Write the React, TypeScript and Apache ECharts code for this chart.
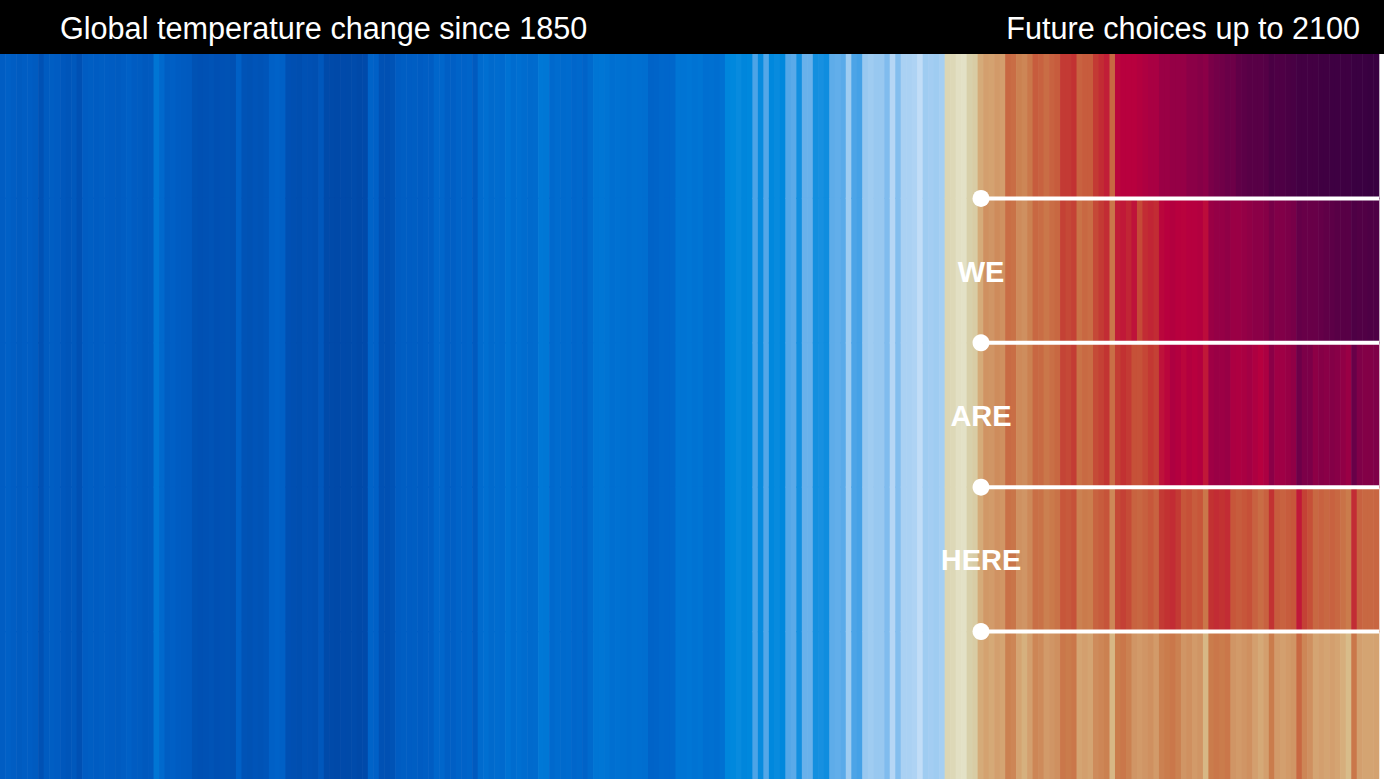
import React, { useEffect, useRef } from "react";
import * as echarts from "echarts";

const FIRST_YEAR = 1850;
const LAST_YEAR = 2100;
const HISTORIC_END = 2021;
const SHARED_END = 2028;

const titleLeft = "Global temperature change since 1850";
const titleRight = "Future choices up to 2100";
const bandWords = ["", "WE", "ARE", "HERE", ""];
const bandNames = ["Scenario 1", "Scenario 2", "Scenario 3", "Scenario 4", "Scenario 5"];

// Observed stripes 1850–2021 (°C, approx.)
const historic: number[] = [
  0.05, 0.1, 0.05, 0.02, 0.05, 0.05, 0.02, -0.15, 0.02, 0.06,
  0.04, -0.05, -0.08, -0.04, -0.16, 0.04, 0.06, 0.04, 0.06, 0.05,
  0.04, 0.02, 0.05, 0.1, 0.04, 0.03, -0.02, 0.0, 0.45, 0.25,
  0.06, 0.08, 0.04, 0.02, 0.0, -0.14, -0.16, -0.15, -0.12, -0.16,
  -0.15, -0.14, -0.16, 0.1, -0.12, -0.14, -0.1, -0.12, -0.08, 0.1,
  0.14, 0.1, -0.16, -0.18, -0.2, -0.15, -0.16, -0.18, -0.05, -0.26,
  -0.27, -0.28, -0.26, -0.27, -0.25, -0.28, -0.26, 0.15, 0.1, -0.15,
  -0.16, -0.12, 0.04, 0.06, 0.05, 0.06, 0.04, 0.07, 0.05, 0.2,
  0.2, 0.08, 0.08, 0.15, 0.14, 0.16, 0.0, 0.28, 0.35, 0.26,
  0.3, 0.27, 0.4, 0.3, 0.35, 0.3, 0.26, 0.28, 0.5, 0.48,
  0.25, 0.3, 0.26, 0.28, 0.2, 0.24, 0.15, 0.26, 0.45, 0.46,
  0.44, 0.35, 0.38, 0.36, 0.34, 0.36, 0.35, 0.33, 0.15, 0.16,
  0.22, 0.2, 0.22, 0.45, 0.44, 0.46, 0.42, 0.45, 0.35, 0.36,
  0.34, 0.38, 0.68, 0.7, 0.72, 0.68, 0.7, 0.9, 0.72, 0.92,
  0.7, 0.72, 0.7, 0.92, 0.94, 0.75, 0.98, 0.98, 0.75, 0.76,
  0.74, 0.95, 0.96, 0.94, 1.12, 0.9, 0.88, 1.1, 1.12, 1.1,
  1.1, 1.04, 1.18, 1.05, 1.15, 1.15, 1.16, 1.22, 1.12, 1.13,
  1.12, 1.14,
];

// Shared near-term stripes 2022–2028
const sharedFuture: number[] = [1.36, 1.35, 1.3, 1.29, 1.4, 1.42, 1.57];

// Scenario stripes 2029–2100 (top band to bottom band)
const scenario1: number[] = [
  1.65, 1.62, 1.7, 1.66, 2.2, 2.15, 1.95, 1.9, 2.05, 2.3,
  2.25, 2.15, 2.25, 2.3, 2.55, 2.55, 2.6, 2.25, 2.3, 2.3,
  2.55, 2.65, 2.75, 2.2, 2.95, 3.0, 3.0, 3.0, 3.05, 3.1,
  3.15, 3.15, 3.3, 3.3, 3.35, 3.35, 3.35, 3.45, 3.45, 3.5,
  3.45, 3.62, 3.68, 3.72, 3.78, 3.75, 3.9, 3.95, 4.0, 4.0,
  4.0, 4.05, 4.2, 4.15, 4.15, 4.2, 4.25, 4.35, 4.35, 4.35,
  4.35, 4.4, 4.4, 4.45, 4.45, 4.45, 4.45, 4.55, 4.55, 4.55,
  4.6, 4.6,
];
const scenario2: number[] = [
  1.8, 1.75, 1.85, 1.8, 2.15, 2.1, 1.85, 1.8, 1.95, 2.2,
  2.15, 2.05, 2.15, 2.2, 2.5, 2.45, 2.5, 2.1, 2.2, 2.15,
  2.45, 2.55, 2.65, 2.05, 2.75, 2.8, 2.7, 2.85, 2.45, 2.65,
  2.7, 2.65, 2.95, 3.0, 3.05, 3.0, 2.98, 3.02, 3.02, 3.05,
  2.9, 3.3, 3.35, 3.35, 3.4, 3.3, 3.3, 3.35, 3.4, 3.45,
  3.45, 3.5, 3.65, 3.55, 3.55, 3.6, 3.65, 3.85, 3.8, 3.8,
  3.8, 3.85, 3.9, 3.95, 4.0, 4.0, 4.0, 4.15, 4.1, 4.1,
  4.15, 4.15,
];
const scenario3: number[] = [
  1.77, 1.75, 1.84, 1.8, 2.17, 2.14, 1.86, 1.83, 1.95, 2.21,
  2.18, 2.05, 2.13, 2.2, 2.48, 2.45, 2.53, 2.1, 2.18, 2.15,
  2.43, 2.5, 2.59, 2.13, 2.52, 2.61, 2.55, 2.39, 2.38, 2.47,
  2.56, 2.5, 2.85, 2.95, 3.1, 3.05, 2.95, 3.05, 3.0, 3.05,
  2.8, 3.25, 3.3, 3.28, 3.32, 3.12, 3.1, 3.14, 3.2, 3.1,
  3.02, 3.12, 3.45, 3.25, 3.25, 3.32, 3.4, 3.75, 3.6, 3.6,
  3.43, 3.5, 3.46, 3.52, 3.48, 3.39, 3.3, 3.8, 3.57, 3.53,
  3.54, 3.57,
];
const scenario4: number[] = [
  1.72, 1.69, 1.78, 1.74, 2.11, 2.07, 1.79, 1.75, 1.87, 2.13,
  2.1, 1.96, 2.02, 2.09, 2.35, 2.32, 2.38, 1.95, 2.01, 1.98,
  2.24, 2.3, 2.37, 1.88, 2.45, 2.51, 2.43, 2.24, 2.21, 2.27,
  2.34, 2.25, 2.55, 2.6, 2.65, 2.55, 2.35, 2.4, 2.3, 2.35,
  2.05, 2.6, 2.65, 2.6, 2.65, 2.35, 2.3, 2.35, 2.4, 2.25,
  2.15, 2.25, 2.6, 2.3, 2.25, 2.3, 2.35, 2.8, 2.5, 2.4,
  2.2, 2.25, 2.2, 2.25, 2.2, 2.1, 2.0, 2.65, 2.25, 2.2,
  2.2, 2.22,
];
const scenario5: number[] = [
  1.62, 1.58, 1.65, 1.6, 1.95, 1.9, 1.6, 1.55, 1.65, 1.9,
  1.85, 1.7, 1.75, 1.8, 2.05, 2.0, 2.05, 1.6, 1.65, 1.6,
  1.85, 1.9, 1.95, 1.52, 2.0, 2.05, 1.95, 1.75, 1.7, 1.75,
  1.8, 1.7, 1.95, 2.0, 2.05, 1.95, 1.75, 1.8, 1.7, 1.75,
  1.52, 2.0, 2.05, 2.0, 2.05, 1.75, 1.7, 1.75, 1.8, 1.65,
  1.58, 1.65, 2.0, 1.7, 1.65, 1.7, 1.75, 2.2, 1.9, 1.8,
  1.6, 1.65, 1.6, 1.65, 1.6, 1.56, 1.5, 2.05, 1.65, 1.6,
  1.6, 1.62,
];

// Colour scale (style)
const COLOR_STOPS: [number, string][] = [
  [-0.3, "#0048a6"], [-0.1, "#0054b8"], [0.1, "#0060c6"], [0.3, "#006ccf"],
  [0.5, "#0078d6"], [0.7, "#0088dd"], [0.85, "#3a9ce4"], [1.0, "#70b4ec"],
  [1.1, "#98c8f0"], [1.2, "#bcdaf6"], [1.25, "#c8e2f8"], [1.28, "#e4e2c8"],
  [1.4, "#d8d0aa"], [1.5, "#d8bc8a"], [1.6, "#d4a472"], [1.8, "#cf9060"],
  [2.0, "#ca7c4c"], [2.2, "#c86842"], [2.4, "#c65038"], [2.6, "#c23232"],
  [2.8, "#c01838"], [3.0, "#b8003e"], [3.2, "#a40044"], [3.4, "#900046"],
  [3.6, "#7c0048"], [3.8, "#680048"], [4.0, "#580046"], [4.2, "#4a0044"],
  [4.4, "#400042"], [4.6, "#380040"],
];
const SCALE_MIN = -0.3;
const SCALE_MAX = 4.6;

function hexRgb(h: string): number[] {
  const n = parseInt(h.slice(1), 16);
  return [(n >> 16) & 255, (n >> 8) & 255, n & 255];
}
function buildPalette(): string[] {
  const out: string[] = [];
  const steps = Math.round((SCALE_MAX - SCALE_MIN) / 0.01);
  for (let i = 0; i <= steps; i++) {
    const v = SCALE_MIN + (SCALE_MAX - SCALE_MIN) * (i / steps);
    let k = 0;
    while (k < COLOR_STOPS.length - 2 && v > COLOR_STOPS[k + 1][0]) k++;
    const [v0, c0] = COLOR_STOPS[k];
    const [v1, c1] = COLOR_STOPS[k + 1];
    const t = Math.max(0, Math.min(1, (v - v0) / (v1 - v0)));
    const a = hexRgb(c0);
    const b = hexRgb(c1);
    const r = a.map((x, j) => Math.round(x + (b[j] - x) * t));
    out.push(`rgb(${r[0]},${r[1]},${r[2]})`);
  }
  return out;
}

// Layout (style)
const W = 1384;
const H = 779;
const HEADER_H = 54;
const STRIPE_W = 1379;
const GRID_H = 722;
const DOT_X = 981;

export default function App() {
  const ref = useRef<HTMLDivElement>(null);

  useEffect(() => {
    document.body.style.margin = "0";
    if (!ref.current) return;
    const chart = echarts.init(ref.current, undefined, { renderer: "svg" });

    const years: string[] = [];
    for (let y = FIRST_YEAR; y <= LAST_YEAR; y++) years.push(String(y));
    const scenarios = [scenario1, scenario2, scenario3, scenario4, scenario5];
    const cells: number[][] = [];
    years.forEach((ys, i) => {
      const yr = Number(ys);
      scenarios.forEach((sc, b) => {
        let v: number;
        if (yr <= HISTORIC_END) v = historic[yr - FIRST_YEAR];
        else if (yr <= SHARED_END) v = sharedFuture[yr - HISTORIC_END - 1];
        else v = sc[yr - SHARED_END - 1];
        cells.push([i, b, v]);
      });
    });

    const lastBand = bandNames.length - 1;
    const bandH = GRID_H / bandNames.length;
    const font = "'Liberation Sans', Arial, sans-serif";
    const graphics: any[] = [
      {
        type: "rect",
        shape: { x: 0, y: 0, width: W, height: HEADER_H },
        style: { fill: "#000" },
        z: 100,
      },
      {
        type: "text",
        x: 60,
        y: HEADER_H / 2 + 0.5,
        z: 101,
        style: {
          text: titleLeft,
          fill: "#fff",
          fontSize: 30.6,
          fontFamily: font,
          align: "left",
          verticalAlign: "middle",
          textAlign: "left",
          textVerticalAlign: "middle",
        },
      },
      {
        type: "text",
        x: 1360,
        y: HEADER_H / 2 + 0.5,
        z: 101,
        style: {
          text: titleRight,
          fill: "#fff",
          fontSize: 30.6,
          fontFamily: font,
          align: "right",
          verticalAlign: "middle",
          textAlign: "right",
          textVerticalAlign: "middle",
        },
      },
    ];
    for (let k = 1; k < bandNames.length; k++) {
      const y = HEADER_H + k * bandH;
      graphics.push({
        type: "line",
        z: 100,
        shape: { x1: DOT_X, y1: y, x2: STRIPE_W, y2: y },
        style: { stroke: "#fff", lineWidth: 4 },
      });
      graphics.push({
        type: "circle",
        z: 101,
        shape: { cx: DOT_X, cy: y, r: 8.5 },
        style: { fill: "#fff" },
      });
    }
    bandWords.forEach((w, k) => {
      if (!w) return;
      graphics.push({
        type: "text",
        x: DOT_X,
        y: HEADER_H + (k + 0.5) * bandH + 1,
        z: 101,
        style: {
          text: w,
          fill: "#fff",
          fontSize: 29,
          fontWeight: "bold",
          fontFamily: font,
          align: "center",
          verticalAlign: "middle",
          textAlign: "center",
          textVerticalAlign: "middle",
        },
      });
    });

    chart.setOption({
      animation: false,
      backgroundColor: "#fff",
      grid: { left: 0, top: HEADER_H, width: STRIPE_W, height: GRID_H, containLabel: false },
      xAxis: { type: "category", data: years, show: false, boundaryGap: true },
      yAxis: { type: "category", data: bandNames, show: false, inverse: true, boundaryGap: true },
      visualMap: {
        type: "continuous",
        show: false,
        min: SCALE_MIN,
        max: SCALE_MAX,
        dimension: 2,
        seriesIndex: 0,
        inRange: { color: buildPalette() },
      },
      tooltip: { show: false },
      series: [
        {
          type: "custom",
          coordinateSystem: "cartesian2d",
          encode: { x: 0, y: 1 },
          data: cells,
          renderItem: (params: any, api: any) => {
            const p = api.coord([api.value(0), api.value(1)]);
            const s = api.size([1, 1]);
            const extra = api.value(1) === lastBand ? 4 : 0;
            return {
              type: "rect",
              shape: {
                x: p[0] - s[0] / 2 - 0.3,
                y: p[1] - s[1] / 2 - 0.6,
                width: s[0] + 0.6,
                height: s[1] + 1.2 + extra,
              },
              style: { fill: api.visual("color") },
            };
          },
        },
      ],
      graphic: graphics,
    });

    return () => chart.dispose();
  }, []);

  return <div ref={ref} style={{ width: W, height: H }} />;
}
